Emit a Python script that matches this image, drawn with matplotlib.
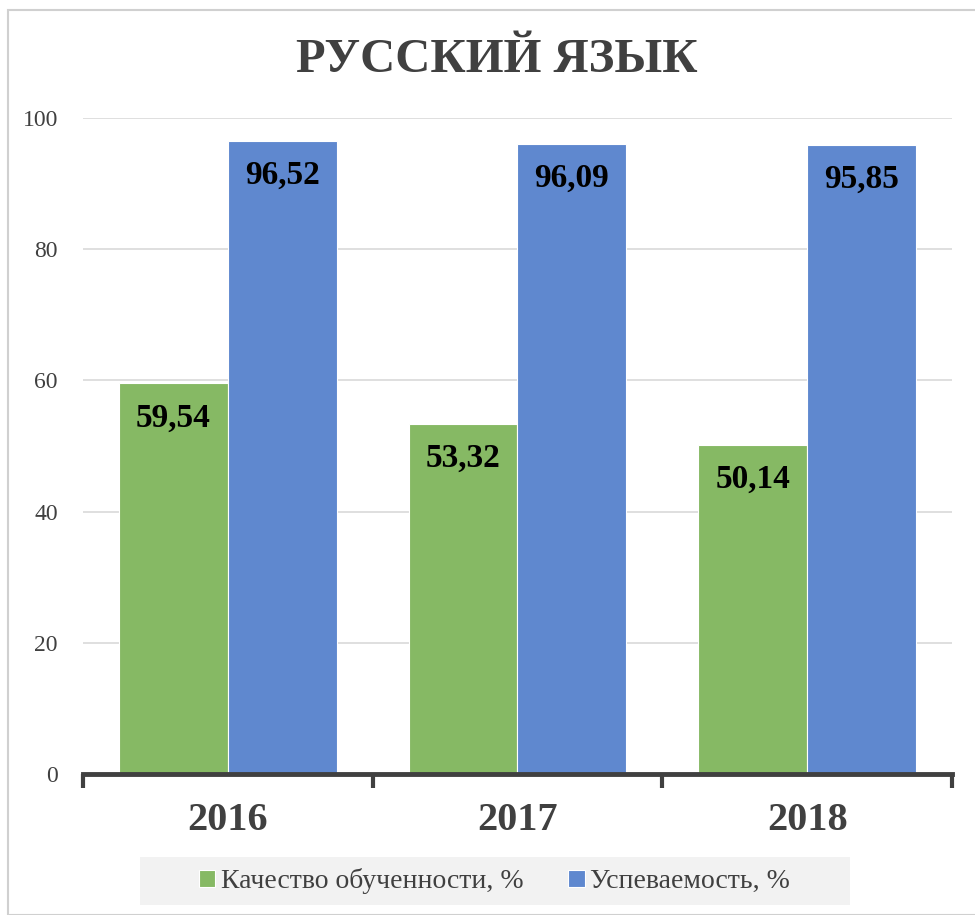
import numpy as np
import matplotlib.pyplot as plt
from matplotlib.patches import Rectangle

plt.rcParams['font.family'] = ['Liberation Serif', 'DejaVu Serif']

years = ['2016', '2017', '2018']
quality = [59.54, 53.32, 50.14]
success = [96.52, 96.09, 95.85]
series_names = ['Качество обученности, %', 'Успеваемость, %']

green = '#86b964'
blue = '#5f88cf'
dark = '#404040'

fig = plt.figure(figsize=(9.75, 9.15), dpi=100)
ax = fig.add_axes([0.0851, 0.1541, 0.8913, 0.7169])

# outer chart border
fig.patches.append(Rectangle((0.008, 0.0), 0.995, 0.989, transform=fig.transFigure,
                             fill=False, edgecolor='#d0d0d0', linewidth=1.5))

x = np.arange(len(years))
w = 0.376
b1 = ax.bar(x - w / 2, quality, w, color=green, edgecolor='white', linewidth=0.8,
            label=series_names[0], zorder=3)
b2 = ax.bar(x + w / 2, success, w, color=blue, edgecolor='white', linewidth=0.8,
            label=series_names[1], zorder=3)

fmt = lambda v: f'{v:.2f}'.replace('.', ',')
for bars, vals in ((b1, quality), (b2, success)):
    ax.bar_label(bars, labels=[fmt(v) for v in vals], padding=-36,
                 fontsize=24, fontweight='bold', color='black', zorder=4)

ax.set_xlim(-0.5, 2.5)
ax.set_ylim(0, 100)
ax.set_yticks(range(0, 101, 20))
ax.yaxis.grid(True, color='#d9d9d9', linewidth=1.2, zorder=0)
ax.tick_params(axis='y', length=0, labelsize=17, labelcolor=dark, pad=18)

ax.set_xticks(x)
ax.set_xticklabels(years, fontsize=29, fontweight='bold', color=dark)
ax.tick_params(axis='x', which='major', length=0, pad=20)
ax.set_xticks([-0.5, 0.5, 1.5, 2.5], minor=True)
ax.tick_params(axis='x', which='minor', length=10, width=3, color=dark, direction='out')

for s in ('top', 'right', 'left'):
    ax.spines[s].set_visible(False)
ax.spines['bottom'].set_color(dark)
ax.spines['bottom'].set_linewidth(3.5)
ax.spines['bottom'].set_zorder(5)

fig.suptitle('РУССКИЙ ЯЗЫК', x=0.51, y=0.958, va='top', fontsize=35,
             fontweight='bold', color=dark)

# legend background
fig.patches.append(Rectangle((0.1436, 0.011), 0.728, 0.052, transform=fig.transFigure,
                             facecolor='#f2f2f2', edgecolor='none'))
fig.legend(handles=[b1, b2], loc='center', bbox_to_anchor=(0.507, 0.037), ncol=2,
           frameon=False, fontsize=20, labelcolor=dark, handlelength=0.6,
           handleheight=0.6, handletextpad=0.2, columnspacing=1.6)

fig.savefig('out.png', dpi=100)
